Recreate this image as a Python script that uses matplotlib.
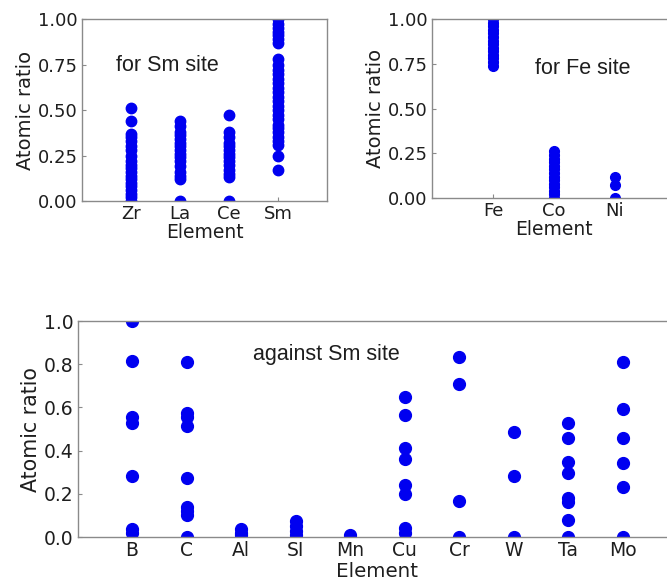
import numpy as np
import matplotlib
matplotlib.use('Agg')
import matplotlib.pyplot as plt

# top-left panel: for Sm site
sm_site_elements = ['Zr', 'La', 'Ce', 'Sm']
zr_vals = [0.0, 0.02, 0.04, 0.06, 0.08, 0.10, 0.12, 0.14, 0.16, 0.18, 0.20, 0.22, 0.25, 0.28, 0.30,
           0.33, 0.35, 0.37, 0.44, 0.51]
la_vals = [0.0, 0.12, 0.14, 0.16, 0.19, 0.22, 0.24, 0.26, 0.28, 0.30, 0.32, 0.34, 0.36, 0.38, 0.41, 0.44]
ce_vals = [0.0, 0.13, 0.15, 0.17, 0.20, 0.22, 0.24, 0.26, 0.28, 0.30, 0.32, 0.35, 0.38, 0.47]
sm_vals = [0.17, 0.25, 0.31, 0.33, 0.35, 0.38, 0.40, 0.42, 0.45, 0.47, 0.50, 0.52, 0.55, 0.57, 0.60,
           0.62, 0.65, 0.67, 0.70, 0.72, 0.75, 0.78, 0.87, 0.89, 0.91, 0.93, 0.95, 0.97, 1.0]

# top-right panel: for Fe site
fe_site_elements = ['Fe', 'Co', 'Ni']
fe_vals = [0.74, 0.76, 0.78, 0.80, 0.82, 0.84, 0.86, 0.88, 0.90, 0.92, 0.94, 0.96, 0.98, 1.0]
co_vals = [0.0, 0.02, 0.04, 0.06, 0.08, 0.10, 0.12, 0.14, 0.16, 0.18, 0.20, 0.22, 0.24, 0.26]
ni_vals = [0.0, 0.07, 0.12]

# bottom panel: against Sm site
against_elements = ['B', 'C', 'Al', 'SI', 'Mn', 'Cu', 'Cr', 'W', 'Ta', 'Mo']
against_vals = [
    [1.0, 0.815, 0.557, 0.529, 0.282, 0.035, 0.02],
    [0.81, 0.575, 0.554, 0.514, 0.272, 0.14, 0.122, 0.102, 0.0],
    [0.035, 0.02, 0.01],
    [0.075, 0.05, 0.03, 0.01],
    [0.01, 0.0],
    [0.65, 0.565, 0.41, 0.36, 0.24, 0.20, 0.04, 0.02],
    [0.835, 0.708, 0.167, 0.0],
    [0.488, 0.284, 0.0],
    [0.526, 0.46, 0.349, 0.298, 0.179, 0.16, 0.079, 0.0],
    [0.812, 0.591, 0.46, 0.341, 0.23, 0.0],
]

blue = '#0000f0'
spine_col = '#8a8a8a'
text_col = '#1e1e1e'


def style_axes(ax, tick_size, label_size, xpad):
    for s in ax.spines.values():
        s.set_color(spine_col)
        s.set_linewidth(1.0)
    ax.tick_params(direction='in', length=3, color=spine_col, labelsize=tick_size,
                   labelcolor=text_col, pad=3)
    ax.set_ylabel('Atomic ratio', fontsize=label_size, color=text_col, labelpad=2)
    ax.set_xlabel('Element', fontsize=label_size - 0.5, color=text_col, labelpad=xpad)


fig = plt.figure(figsize=(6.67, 5.81), dpi=100)

ax1 = fig.add_axes([0.1229, 0.654, 0.3673, 0.3133])
for i, vals in enumerate([zr_vals, la_vals, ce_vals, sm_vals]):
    ax1.plot(np.full(len(vals), i + 1), vals, 'o', color=blue, ms=7.5, mec=blue)
ax1.set_xlim(0, 5)
ax1.set_ylim(0, 1)
ax1.set_xticks(range(1, 5))
ax1.set_xticklabels(sm_site_elements)
ax1.set_yticks([0, 0.25, 0.5, 0.75, 1.0])
ax1.set_yticklabels(['0.00', '0.25', '0.50', '0.75', '1.00'])
style_axes(ax1, 13, 14, 0)
ax1.text(0.7, 0.747, 'for Sm site', fontsize=15.5, family='Liberation Sans',
         color=text_col, va='center')

ax2 = fig.add_axes([0.6477, 0.6592, 0.3658, 0.308])
for i, vals in enumerate([fe_vals, co_vals, ni_vals]):
    ax2.plot(np.full(len(vals), i + 1), vals, 'o', color=blue, ms=7, mec=blue)
ax2.set_xlim(0, 4)
ax2.set_ylim(0, 1)
ax2.set_xticks(range(1, 4))
ax2.set_xticklabels(fe_site_elements)
ax2.set_yticks([0, 0.25, 0.5, 0.75, 1.0])
ax2.set_yticklabels(['0.00', '0.25', '0.50', '0.75', '1.00'])
style_axes(ax2, 13, 14, 0)
ax2.text(1.69, 0.726, 'for Fe site', fontsize=15.5, family='Liberation Sans',
         color=text_col, va='center')

ax3 = fig.add_axes([0.1162, 0.0757, 0.8988, 0.3718])
for i, vals in enumerate(against_vals):
    ax3.plot(np.full(len(vals), i + 1), vals, 'o', color=blue, ms=8.5, mec=blue)
ax3.set_xlim(0, 11)
ax3.set_ylim(0, 1)
ax3.set_xticks(range(1, 11))
ax3.set_xticklabels(against_elements)
ax3.set_yticks([0, 0.2, 0.4, 0.6, 0.8, 1.0])
ax3.set_yticklabels(['0.0', '0.2', '0.4', '0.6', '0.8', '1.0'])
style_axes(ax3, 13.5, 14.8, 1)
ax3.text(3.22, 0.843, 'against Sm site', fontsize=15.5, family='Liberation Sans',
         color=text_col, va='center')

fig.savefig('out.png', dpi=100)
